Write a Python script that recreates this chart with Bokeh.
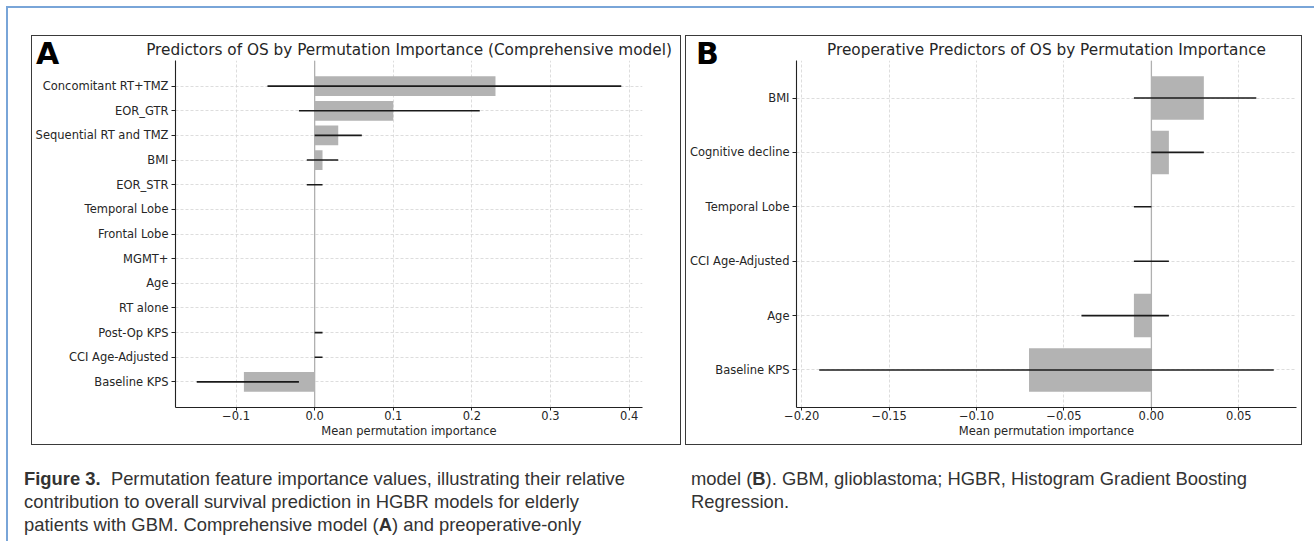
from bokeh.plotting import figure
from bokeh.models import FactorRange, Range1d, Span, FixedTicker, Div
from bokeh.layouts import column, row
from bokeh.embed import file_html
from bokeh.resources import INLINE

# ---------------- data ----------------
feat_a = ["Concomitant RT+TMZ", "EOR_GTR", "Sequential RT and TMZ", "BMI", "EOR_STR",
          "Temporal Lobe", "Frontal Lobe", "MGMT+", "Age", "RT alone",
          "Post-Op KPS", "CCI Age-Adjusted", "Baseline KPS"]
imp_a = [0.23, 0.10, 0.03, 0.01, 0.0, 0.0, 0.0, 0.0, 0.0, 0.0, 0.0, 0.0, -0.09]
lo_a = [-0.06, -0.02, 0.0, -0.01, -0.01, 0.0, 0.0, 0.0, 0.0, 0.0, 0.0, 0.0, -0.15]
hi_a = [0.39, 0.21, 0.06, 0.03, 0.01, 0.0, 0.0, 0.0, 0.0, 0.0, 0.01, 0.01, -0.02]
xticks_a = [-0.1, 0.0, 0.1, 0.2, 0.3, 0.4]
xlabels_a = ["\u22120.1", "0.0", "0.1", "0.2", "0.3", "0.4"]

feat_b = ["BMI", "Cognitive decline", "Temporal Lobe", "CCI Age-Adjusted", "Age", "Baseline KPS"]
imp_b = [0.03, 0.01, 0.0, 0.0, -0.01, -0.07]
lo_b = [-0.01, 0.0, -0.01, -0.01, -0.04, -0.19]
hi_b = [0.06, 0.03, 0.0, 0.01, 0.01, 0.07]
xticks_b = [-0.20, -0.15, -0.10, -0.05, 0.00, 0.05]
xlabels_b = ["\u22120.20", "\u22120.15", "\u22120.10", "\u22120.05", "0.00", "0.05"]

title_a = "Predictors of OS by Permutation Importance (Comprehensive model)"
title_b = "Preoperative Predictors of OS by Permutation Importance"
xlab = "Mean permutation importance"

caption_left = ('<b>Figure 3.</b>&nbsp; Permutation feature importance values, illustrating their relative<br>'
                'contribution to overall survival prediction in HGBR models for elderly<br>'
                'patients with GBM. Comprehensive model (<b>A</b>) and preoperative-only')
caption_right = ('model (<b>B</b>). GBM, glioblastoma; HGBR, Histogram Gradient Boosting<br>'
                 'Regression.')

FONT = "DejaVu Sans"
TXT = "#262626"


def make_panel(feats, imp, lo, hi, xr, ticks, labels, title, w, h,
               mb_left, mb_right, pad):
    yr = FactorRange(factors=list(reversed(feats)), range_padding=pad,
                     range_padding_units="absolute")
    p = figure(width=w, height=h, x_range=Range1d(*xr), y_range=yr,
               output_backend="svg", toolbar_location=None,
               min_border_left=mb_left, min_border_right=mb_right,
               min_border_top=24, min_border_bottom=37)
    p.outline_line_color = None
    p.background_fill_color = "white"
    p.border_fill_color = "white"

    p.title.text = title
    p.title.text_font = FONT
    p.title.text_font_size = "15.3px"
    p.title.text_font_style = "normal"
    p.title.text_color = TXT
    p.title.align = "center"
    p.title.standoff = 3

    p.add_layout(Span(location=0, dimension="height", line_color="#b0b0b0",
                      line_width=1.3, level="underlay"))
    p.hbar(y=feats, left=0, right=imp, height=0.8, fill_color="#b3b3b3",
           line_color=None)
    p.segment(x0=lo, x1=hi, y0=feats, y1=feats, line_color="#1a1a1a",
              line_width=1.6)

    p.xaxis.ticker = FixedTicker(ticks=ticks)
    p.xaxis.major_label_overrides = {t: l for t, l in zip(ticks, labels)}
    p.xaxis.axis_label = xlab
    p.xaxis.axis_label_text_font = FONT
    p.xaxis.axis_label_text_font_size = "11.5px"
    p.xaxis.axis_label_text_font_style = "normal"
    p.xaxis.axis_label_text_color = TXT
    p.xaxis.axis_label_standoff = 1
    for ax in (p.xaxis, p.yaxis):
        ax.axis_line_color = "#222222"
        ax.axis_line_width = 1.1
        ax.major_tick_line_color = "#222222"
        ax.major_tick_in = 0
        ax.minor_tick_line_color = None
        ax.major_label_text_font = FONT
        ax.major_label_text_font_size = "11.5px"
        ax.major_label_text_color = TXT
    p.xaxis.major_tick_out = 3
    p.xaxis.major_label_standoff = 0
    p.yaxis.major_tick_out = 4
    p.yaxis.major_label_standoff = 3
    for g in (p.xgrid, p.ygrid):
        g.grid_line_color = "#d4d4d4"
        g.grid_line_dash = "3 2"
        g.grid_line_width = 0.8
    return p


def letter_div(letter, left):
    return Div(text=letter, width=40, height=32,
               styles={"position": "absolute", "left": f"{left}px", "top": "-2px",
                       "z-index": "10", "font-family": FONT, "font-weight": "bold",
                       "font-size": "30px", "line-height": "30px", "color": "black"})


pa = make_panel(feat_a, imp_a, lo_a, hi_a, (-0.177, 0.417), xticks_a, xlabels_a,
                title_a, 648, 408, 143, 38, 0.54)
pb = make_panel(feat_b, imp_b, lo_b, hi_b, (-0.203, 0.083), xticks_b, xlabels_b,
                title_b, 615, 408, 110, 5, 0.19)

box = {"border": "1px solid #3a3a3a", "position": "relative"}
box_a = column(pa, letter_div("A", -1), styles=box, margin=(27, 0, 0, 23))
box_b = column(pb, letter_div("B", 5), styles=box, margin=(27, 12, 0, 4))

cap_style = {"font-family": "Liberation Sans", "font-size": "18.4px", "color": "#333333",
             "line-height": "23px", "white-space": "nowrap"}
d1 = Div(text=caption_left, width=650, height=69, styles=cap_style, margin=(22, 0, 5, 16))
d2 = Div(text=caption_right, width=600, height=69, styles=cap_style, margin=(22, 0, 5, 17))

page = column(row(box_a, box_b), row(d1, d2), margin=(6, 0, 0, 6),
              styles={"border-top": "2px solid #79a5d8", "border-left": "2px solid #79a5d8"})

open("out.html", "w").write(file_html(page, INLINE))
